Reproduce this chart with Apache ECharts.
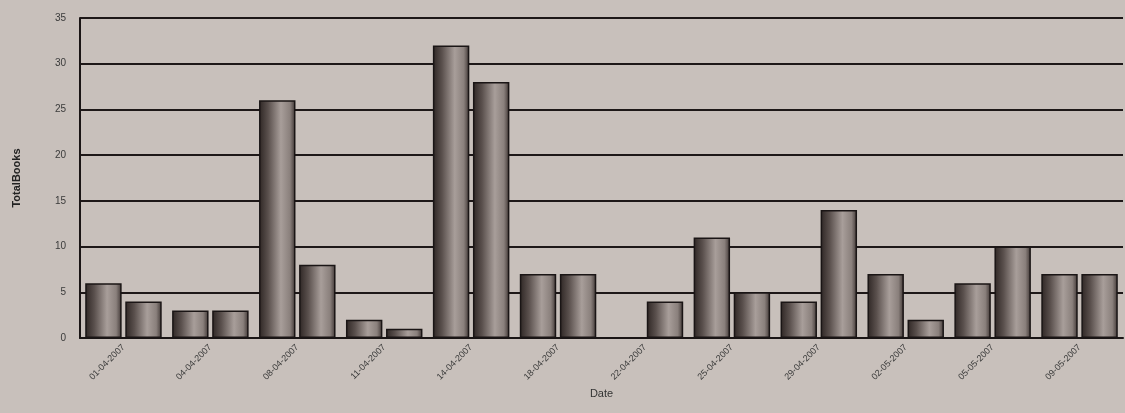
<!DOCTYPE html>
<html><head><meta charset="utf-8">
<script src="https://cdn.jsdelivr.net/npm/echarts@6/dist/echarts.min.js"></script>
<style>html,body{margin:0;padding:0;background:#c8c0bb;}#c{width:1125px;height:413px;}</style>
</head><body><div id="c"></div>
<script>
const categories = ["01-04-2007","04-04-2007","08-04-2007","11-04-2007","14-04-2007","18-04-2007","22-04-2007","25-04-2007","29-04-2007","02-05-2007","05-05-2007","09-05-2007"];
const seriesA = [6,3,26,2,32,7,0,11,4,7,6,7];
const seriesB = [4,3,8,1,28,7,4,5,14,2,10,7];
const yTicks = [0,5,10,15,20,25,30,35];

const barGrad = {type:'linear',x:0,y:0,x2:1,y2:0,colorStops:[
  {offset:0,color:'#2e2624'},{offset:0.25,color:'#5a504d'},{offset:0.6,color:'#a89e9a'},{offset:0.85,color:'#8a807c'},{offset:1,color:'#3e3533'}]};
const chart = echarts.init(document.getElementById('c'));
const mk = (name,data)=>({name,type:'bar',data,barGap:'10%',barCategoryGap:'12%',
  itemStyle:{color:barGrad,borderColor:'#1a1515',borderWidth:1.5}});
chart.setOption({
  backgroundColor:'#c8c0bb',
  animation:false,
  grid:{left:80,right:2,top:18,bottom:75},
  xAxis:{type:'category',data:categories,name:'Date',nameLocation:'middle',nameGap:30,
    nameTextStyle:{color:'#333',fontSize:11,fontFamily:'Liberation Sans'},
    axisLine:{lineStyle:{color:'#1a1515',width:2}},axisTick:{show:false},
    axisLabel:{rotate:45,fontSize:9,color:'#3a3a3a',fontFamily:'Liberation Sans',interval:0}},
  yAxis:{type:'value',min:0,max:35,interval:5,name:'TotalBooks',nameLocation:'middle',nameGap:58,
    nameTextStyle:{color:'#222',fontSize:11,fontWeight:'bold',fontFamily:'Liberation Sans'},
    axisLine:{show:true,lineStyle:{color:'#1a1515',width:2}},axisTick:{show:false},
    axisLabel:{fontSize:10,color:'#3a3a3a',fontFamily:'Liberation Sans',margin:14,
      formatter:v=>yTicks.includes(v)?String(v):''},
    splitLine:{lineStyle:{color:'#1e1818',width:1.8}}},
  series:[mk('A',seriesA),mk('B',seriesB)]
});
</script></body></html>
